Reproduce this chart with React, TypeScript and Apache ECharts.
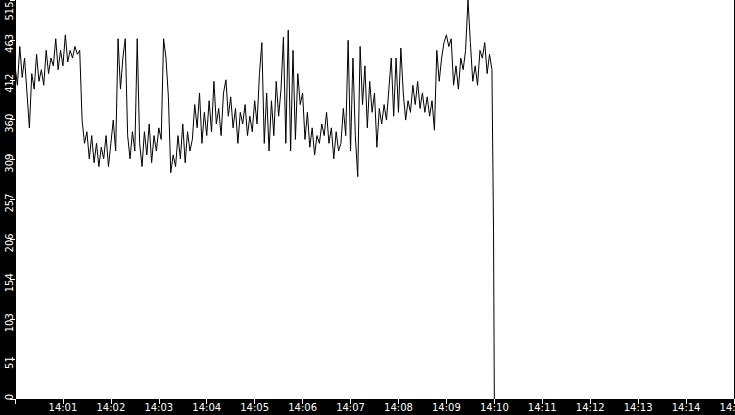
import React, { useEffect, useRef } from 'react';
import * as echarts from 'echarts';

// samples every 3 seconds starting at 14:00:00
const SAMPLE_STEP = 3;
const samples = [
  430, 405, 455, 415, 440, 395, 350, 420, 400, 445,
  410, 425, 405, 450, 420, 440, 430, 465, 425, 450,
  430, 470, 435, 450, 440, 455, 445, 450, 360, 330,
  345, 310, 340, 305, 330, 300, 325, 310, 340, 300,
  330, 360, 320, 465, 400, 440, 465, 340, 310, 345,
  320, 465, 330, 300, 345, 315, 355, 305, 340, 320,
  350, 335, 465, 440, 390, 292, 315, 300, 340, 310,
  355, 305, 345, 320, 335, 380, 350, 395, 330, 370,
  340, 385, 345, 410, 355, 375, 340, 395, 412, 365,
  390, 350, 375, 330, 370, 355, 380, 340, 365, 345,
  385, 355, 420, 460, 330, 395, 320, 385, 340, 410,
  365, 400, 467, 330, 476, 320, 450, 335, 420, 380,
  395, 335, 370, 325, 350, 315, 340, 330, 355, 340,
  370, 330, 350, 310, 345, 320, 330, 375, 340, 463,
  320, 440, 340, 287, 455, 380, 430, 350, 410, 370,
  395, 325, 375, 355, 380, 360, 400, 440, 365, 440,
  370, 453, 395, 360, 385, 370, 405, 380, 410, 375,
  395, 370, 390, 365, 385, 347, 450, 410, 440, 460,
  470, 455, 465, 405, 430, 400, 440, 425, 450, 515,
  460, 410, 430, 405, 450, 440, 460, 420, 445, 425,
];
// last readings before the feed stopped
const tailSeconds = [599, 600];
const tailValues = [217, 0];

const yTicks = { min: 0, max: 515, step: 51.5 };
const xTicks = { min: 0, max: 900, step: 60 };

const FONT = 'DejaVu Sans';

const Chart: React.FC = () => {
  const chartRef = useRef<HTMLDivElement | null>(null);

  useEffect(() => {
    if (!chartRef.current) return;
    const chart = echarts.init(chartRef.current, undefined, { renderer: 'svg' });

    const data: [number, number][] = samples.map((v, i) => [i * SAMPLE_STEP, v]);
    tailSeconds.forEach((t, i) => data.push([t, tailValues[i]]));

    const option: echarts.EChartsOption = {
      animation: false,
      backgroundColor: '#000',
      grid: {
        left: 15,
        right: 1,
        top: 0,
        bottom: 16,
        show: true,
        backgroundColor: '#fff',
        borderWidth: 0,
        outerBoundsMode: 'none',
        containLabel: false,
      } as any,
      xAxis: {
        type: 'value',
        min: xTicks.min,
        max: xTicks.max,
        interval: xTicks.step,
        axisLine: { show: true, lineStyle: { color: '#000', width: 1 } },
        axisTick: { show: true, length: 5, lineStyle: { color: '#fff', width: 1 } },
        splitLine: { show: false },
        axisLabel: {
          color: '#fff',
          fontSize: 10,
          fontFamily: FONT,
          margin: 3,
          showMinLabel: true,
          showMaxLabel: true,
          formatter: (v: number) =>
            v === 0 ? '' : '14:' + String(Math.round(v / 60)).padStart(2, '0'),
        },
      },
      yAxis: {
        type: 'value',
        min: yTicks.min,
        max: yTicks.max,
        interval: yTicks.step,
        axisLine: { show: true, lineStyle: { color: '#000', width: 1 } },
        axisTick: { show: true, length: 5, lineStyle: { color: '#fff', width: 1 } },
        splitLine: { show: false },
        axisLabel: {
          color: '#fff',
          fontSize: 10,
          fontFamily: FONT,
          rotate: 90,
          margin: 1,
          showMinLabel: true,
          showMaxLabel: true,
          formatter: (v: number) => {
            const s = String(Math.floor(v + 1e-6));
            if (v === 0) return `{lo|${s}}`;
            if (v >= 514) return `{hi|${s}}`;
            return `{mid|${s}}`;
          },
          rich: {
            lo: { color: '#fff', fontSize: 10, fontFamily: FONT, padding: [0, 0, 0, 4] },
            mid: { color: '#fff', fontSize: 10, fontFamily: FONT, padding: [0, 7, 0, 0] },
            hi: { color: '#fff', fontSize: 10, fontFamily: FONT, padding: [0, 22, 0, 0] },
          },
        },
      },
      series: [
        {
          type: 'line',
          data,
          showSymbol: false,
          symbol: 'none',
          silent: true,
          lineStyle: { color: '#000', width: 1 },
        },
      ],
    };

    chart.setOption(option);

    return () => {
      chart.dispose();
    };
  }, []);

  return (
    <div
      ref={chartRef}
      style={{ position: 'fixed', left: 0, top: 0, width: '735px', height: '415px' }}
    />
  );
};

export default function App() {
  return <Chart />;
}
